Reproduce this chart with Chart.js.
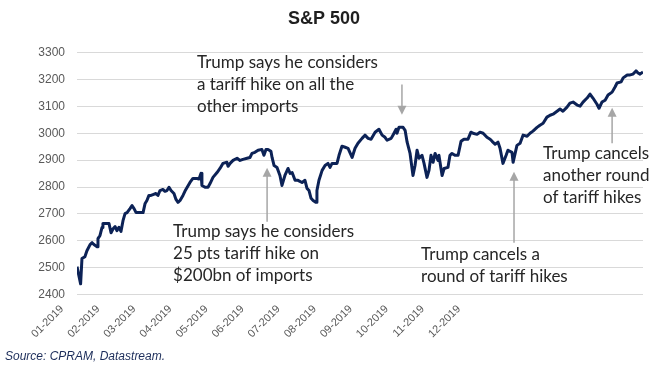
<!DOCTYPE html>
<html>
<head>
<meta charset="utf-8">
<script src="https://cdn.jsdelivr.net/npm/chart.js@4.4.1/dist/chart.umd.min.js"></script>
<style>
  html, body { margin: 0; padding: 0; background: #fff; }
  #wrap { width: 665px; height: 380px; position: relative; }
</style>
</head>
<body>
<div id="wrap"><canvas id="spxChart"></canvas></div>
<script>
// trading day of 2019 (0 = 2 Jan) and S&P 500 close
const tradingDays = [
  0, 1.6, 2.2, 3.5, 4.4, 5.8, 6.7, 7.5, 8.9, 9.3,
  10.2, 11.1, 11.5, 13.3, 14.2, 15.1, 16.0, 16.9, 17.7, 18.6,
  19.5, 20.4, 21.3, 22.2, 23.5, 24.4, 25.3, 26.2, 27.9, 29.3,
  30.2, 31.0, 31.9, 32.8, 33.7, 35.0, 35.9, 36.8, 38.1, 39.0,
  39.9, 40.8, 41.7, 43.0, 43.9, 44.8, 45.7, 47.0, 47.9, 50.1,
  51.4, 53.2, 54.1, 55.0, 55.4, 56.8, 58.1, 59.0, 60.3, 62.1,
  63.4, 64.7, 66.5, 67.0, 67.9, 69.2, 71.0, 72.3, 73.6, 75.4,
  76.7, 77.6, 78.9, 80.3, 82.0, 82.9, 83.8, 84.7, 86.0, 86.5,
  87.4, 88.7, 90.0, 90.9, 92.2, 93.6, 94.5, 95.4, 96.7, 98.0,
  99.8, 101.1, 102.0, 102.9, 103.8, 104.7, 106.0, 106.4, 107.3, 108.7,
  110.0, 111.3, 112.2, 113.1, 115.3, 116.2, 117.5, 118.9, 120.2, 122.0,
  123.3, 124.6, 126.4, 127.7, 129.1, 130.4, 132.2, 133.9, 135.3, 136.6,
  137.5, 139.3, 140.1, 141.5, 141.9, 142.8, 144.6, 145.5, 146.4, 147.7,
  149.0, 149.9, 150.8, 151.7, 153.0, 153.9, 155.2, 156.1, 157.0, 157.9,
  158.8, 160.1, 160.5, 161.9, 162.8, 164.5, 165.4, 166.3, 167.6, 169.0,
  170.3, 171.6, 173.4, 174.7, 175.6, 177.4, 178.7, 180.1, 181.8, 183.2,
  184.1, 185.4, 186.7, 187.6, 188.9, 190.3, 191.1, 192.9, 193.4, 195.1,
  196.5, 197.8, 199.6, 200.9, 202.2, 204.0, 205.3, 206.7, 208.4, 209.8,
  211.1, 212.9, 214.2, 215.5, 217.3, 218.6, 220.0, 221.8, 223.1, 224.4,
  226.2, 227.5, 228.8, 230.6, 231.5, 232.8, 234.2, 235.5, 237.3, 238.6,
  239.5, 241.3, 242.2, 244.0, 245.3, 246.6, 247.9, 248.8, 249.7, 251.0
];
const spxClose = [
  2504, 2440, 2534, 2541, 2563, 2586, 2593, 2586, 2578, 2608,
  2620, 2650, 2664, 2664, 2664, 2630, 2645, 2653, 2638, 2650,
  2635, 2675, 2701, 2705, 2720, 2731, 2720, 2705, 2705, 2705,
  2739, 2750, 2769, 2769, 2772, 2776, 2769, 2787, 2791, 2784,
  2787, 2799, 2787, 2776, 2754, 2743, 2750, 2769, 2785, 2817,
  2832, 2832, 2830, 2851, 2806, 2799, 2799, 2813, 2836, 2854,
  2869, 2888, 2892, 2877, 2888, 2899, 2907, 2899, 2903, 2907,
  2910, 2925, 2929, 2937, 2940, 2918, 2940, 2940, 2933, 2910,
  2880, 2873, 2843, 2806, 2843, 2869, 2851, 2854, 2825, 2825,
  2817, 2825, 2795, 2787, 2758, 2750, 2743, 2787, 2825, 2862,
  2880, 2888, 2873, 2888, 2888, 2918, 2952, 2948, 2944, 2910,
  2944, 2963, 2981, 2993, 2981, 2978, 3004, 3015, 2993, 2985,
  2974, 2981, 2993, 3015, 3000, 3022, 3022, 3011, 2967, 2925,
  2843, 2880, 2937, 2907, 2918, 2888, 2836, 2862, 2918, 2892,
  2925, 2899, 2918, 2843, 2869, 2873, 2918, 2925, 2918, 2918,
  2970, 2978, 2978, 3004, 3000, 2996, 3004, 3000, 2985, 2978,
  2970, 2959, 2967, 2944, 2888, 2918, 2937, 2929, 2892, 2955,
  2963, 2993, 2989, 3000, 3008, 3022, 3030, 3037, 3060, 3067,
  3071, 3082, 3090, 3082, 3097, 3112, 3116, 3105, 3101, 3116,
  3131, 3146, 3131, 3108, 3093, 3116, 3123, 3142, 3153, 3172,
  3187, 3191, 3206, 3217, 3217, 3220, 3232, 3224, 3220, 3228
];

// the axis labels sit every 16 points, like the original Excel sheet
const tickDays = [0, 16, 32, 48, 64, 80, 96, 112, 128, 144, 160, 176];
const tickLabels = ['01-2019', '02-2019', '03-2019', '04-2019', '05-2019', '06-2019',
                    '07-2019', '08-2019', '09-2019', '10-2019', '11-2019', '12-2019'];
const yMin = 2400, yMax = 3300, yStep = 100;

// callouts: text anchor and arrow, in day / index units
const notes = [
  { lines: ['Trump says he considers', 'a tariff hike on all the', 'other imports'],
    textDay: 53.2, textValue: 3263, arrowDay: 144.1, arrowFrom: 3181, arrowTo: 3069 },
  { lines: ['Trump says he considers', '25 pts tariff hike on', '$200bn of imports'],
    textDay: 42.6, textValue: 2634, arrowDay: 84.3, arrowFrom: 2671, arrowTo: 2872 },
  { lines: ['Trump cancels a', 'round of tariff hikes'],
    textDay: 152.6, textValue: 2548, arrowDay: 193.8, arrowFrom: 2593, arrowTo: 2857 },
  { lines: ['Trump cancels', 'another round', 'of tariff hikes'],
    textDay: 206.7, textValue: 2926, arrowDay: 237.3, arrowFrom: 2963, arrowTo: 3095 }
];

const notesPlugin = {
  id: 'notes',
  afterDatasetsDraw(chart) {
    const { ctx, scales: { x, y } } = chart;
    ctx.save();
    ctx.textBaseline = 'middle';
    ctx.textAlign = 'left';
    notes.forEach(n => {
      const tx = x.getPixelForValue(n.textDay);
      const ty = y.getPixelForValue(n.textValue);
      ctx.font = '17px Lato';
      ctx.fillStyle = '#262626';
      n.lines.forEach((line, i) => ctx.fillText(line, tx, ty + i * 22));

      const ax = x.getPixelForValue(n.arrowDay);
      const y0 = y.getPixelForValue(n.arrowFrom);
      const y1 = y.getPixelForValue(n.arrowTo);
      const dir = y1 > y0 ? 1 : -1;
      ctx.strokeStyle = '#a6a6a6';
      ctx.fillStyle = '#a6a6a6';
      ctx.lineWidth = 1.5;
      ctx.beginPath();
      ctx.moveTo(ax, y0);
      ctx.lineTo(ax, y1 - dir * 8);
      ctx.stroke();
      ctx.beginPath();
      ctx.moveTo(ax, y1);
      ctx.lineTo(ax - 4.5, y1 - dir * 9);
      ctx.lineTo(ax + 4.5, y1 - dir * 9);
      ctx.closePath();
      ctx.fill();
    });
    ctx.restore();
  }
};

new Chart(document.getElementById('spxChart'), {
  type: 'line',
  data: {
    datasets: [{
      label: 'S&P 500',
      data: tradingDays.map((d, i) => ({ x: d, y: spxClose[i] })),
      borderColor: '#0c2256',
      borderWidth: 3,
      pointRadius: 0,
      tension: 0,
      borderJoinStyle: 'round'
    }]
  },
  options: {
    responsive: true, maintainAspectRatio: false,
    animation: false,
    layout: { padding: { left: 5, right: 22, top: 0, bottom: 0 } },
    plugins: {
      legend: { display: false },
      tooltip: { enabled: false },
      title: {
        display: true, text: 'S&P 500', color: '#1f1f1f',
        font: { family: 'Liberation Sans', size: 18, weight: 'bold' },
        padding: { top: 8, bottom: 23 }
      },
      subtitle: {
        display: true, position: 'bottom', align: 'start',
        text: 'Source: CPRAM, Datastream.', color: '#1c2d5a',
        font: { family: 'Liberation Sans', size: 12, style: 'italic' },
        padding: { top: 4, bottom: 16 }
      }
    },
    scales: {
      x: {
        type: 'linear', min: 0, max: 251,
        grid: { display: false, drawTicks: false },
        border: { display: false },
        afterBuildTicks: axis => { axis.ticks = tickDays.map(v => ({ value: v })); },
        afterFit: axis => { axis.height = 51; },
        ticks: {
          autoSkip: false, minRotation: 45, maxRotation: 45,
          labelOffset: -15, padding: 8,
          color: '#595959', font: { family: 'Liberation Sans', size: 11 },
          callback: (v, i) => tickLabels[i]
        }
      },
      y: {
        min: yMin, max: yMax,
        grid: { color: '#d9d9d9', lineWidth: 1, drawTicks: false },
        border: { display: false },
        afterFit: axis => { axis.width = 72; },
        ticks: {
          stepSize: yStep, padding: 12,
          color: '#595959', font: { family: 'Liberation Sans', size: 12 },
          callback: v => String(v)
        }
      }
    }
  },
  plugins: [notesPlugin]
});
</script>
</body>
</html>
